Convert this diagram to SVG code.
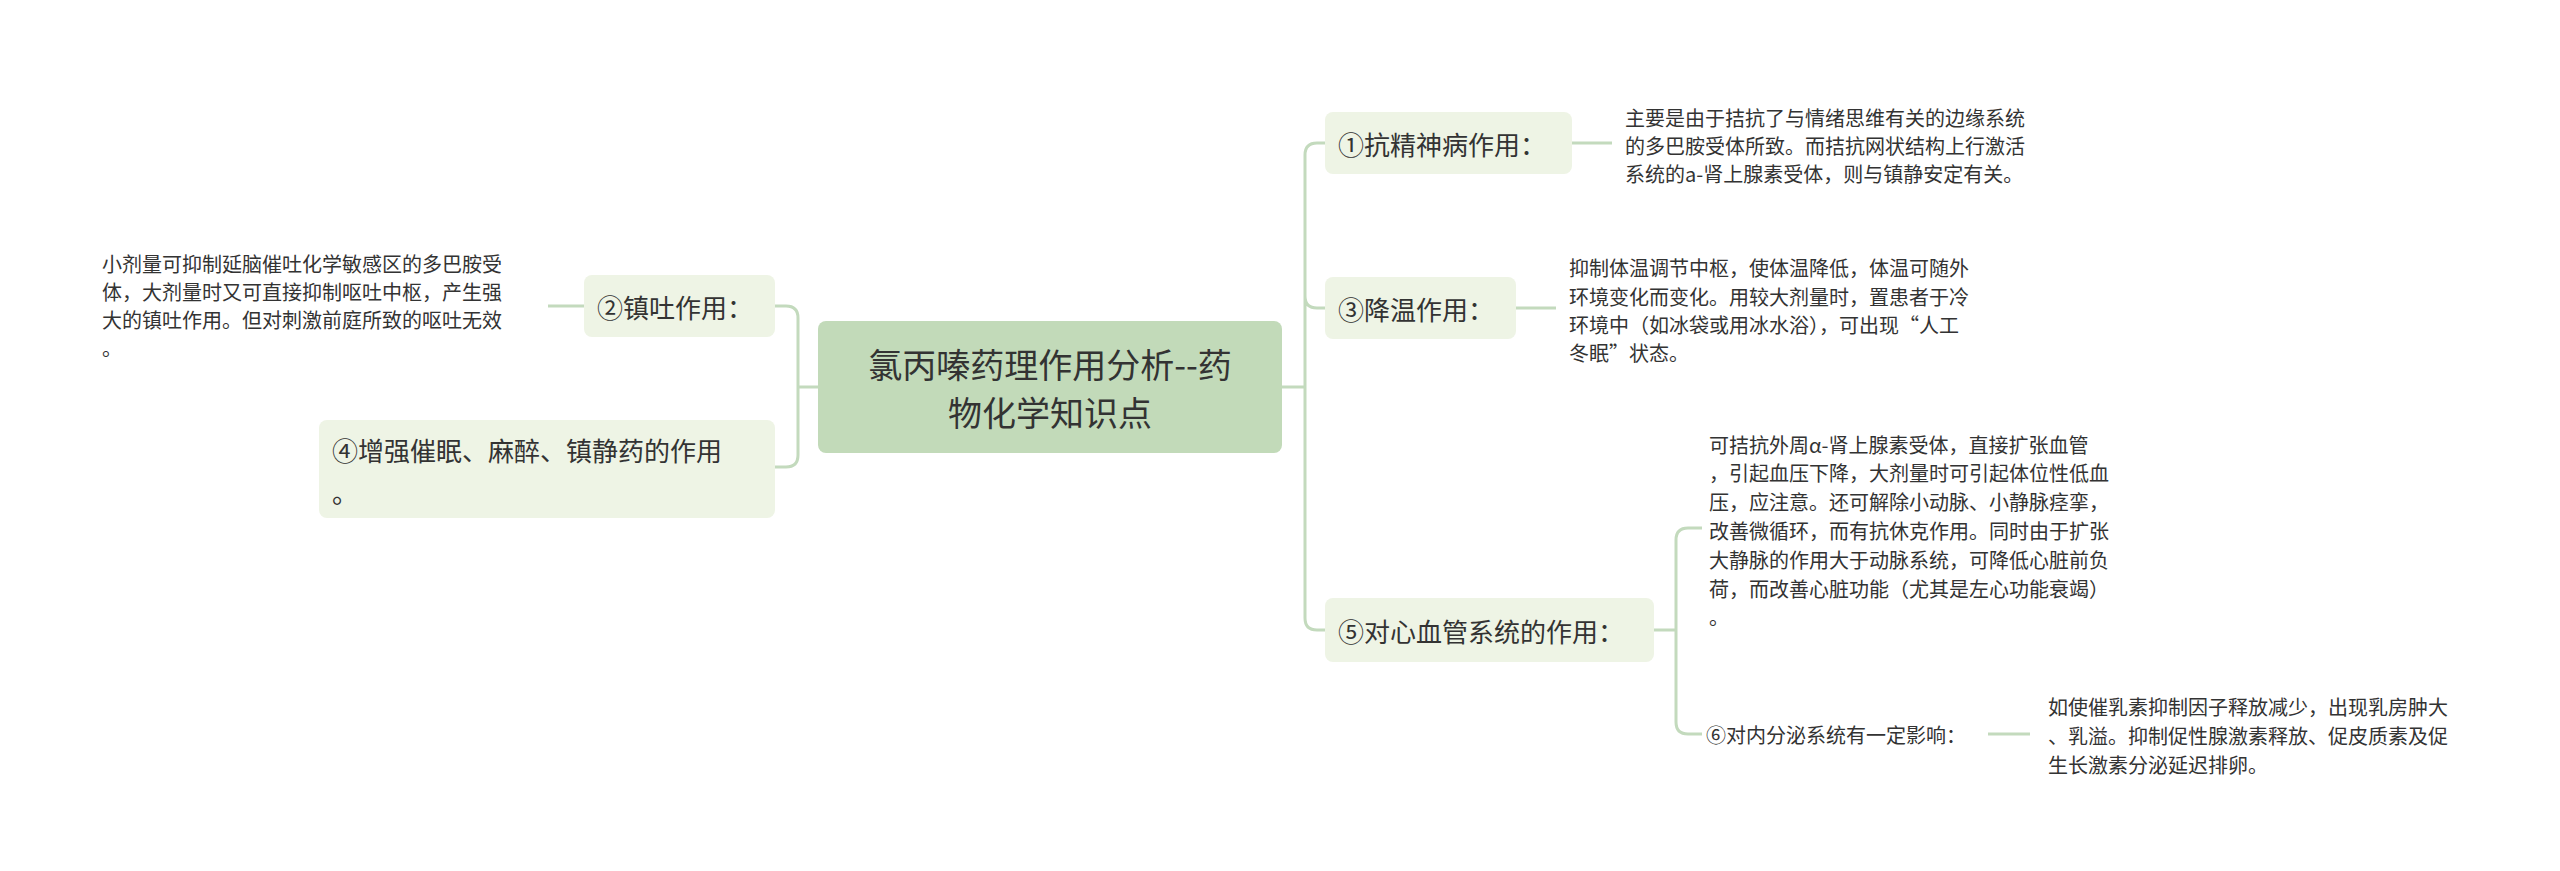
<svg xmlns="http://www.w3.org/2000/svg" width="2560" height="871" viewBox="0 0 2560 871">
<style>
text{font-family:"Noto Sans CJK SC","Liberation Sans",sans-serif;fill:#333}
.n{fill:#eef4e5}
.t{font-size:26px;dominant-baseline:central}
.d{font-size:20px;dominant-baseline:central}
.c{fill:none;stroke:#c3dabd;stroke-width:3}
</style>
<rect width="2560" height="871" fill="#fff"/>
<g id="connectors">
<path class="c" d="M818 387H798M798 387V318q0-12-12-12h-11M798 387V455q0 12-12 12h-11"/>
<path class="c" d="M584 306H548"/>
<path class="c" d="M1282 387H1305M1305 387V155q0-12 12-12h8M1305 296q0 12 12 12h8M1305 387V618q0 12 12 12h8"/>
<path class="c" d="M1572 143H1612M1516 308H1556"/>
<path class="c" d="M1654 630H1676M1676 630V540q0-12 12-12h14M1676 630V722q0 12 12 12h14M1988 734H2030"/>
</g>
<g id="root"><rect x="818" y="321" width="464" height="132" rx="8" fill="#c2dab9"/>
<text x="1050" y="363" text-anchor="middle" style="font-size:34px;dominant-baseline:central">氯丙嗪药理作用分析--药</text>
<text x="1050" y="411" text-anchor="middle" style="font-size:34px;dominant-baseline:central">物化学知识点</text></g>
<g id="n2"><rect class="n" x="584" y="275" width="191" height="62" rx="8"/><text class="t" x="597" y="306">②镇吐作用：</text></g>
<g id="d2"><text class="d" x="102" y="263">小剂量可抑制延脑催吐化学敏感区的多巴胺受</text><text class="d" x="102" y="291">体，大剂量时又可直接抑制呕吐中枢，产生强</text><text class="d" x="102" y="319">大的镇吐作用。但对刺激前庭所致的呕吐无效</text><text class="d" x="102" y="347">。</text></g>
<g id="n4"><rect class="n" x="319" y="420" width="456" height="98" rx="8"/><text class="t" x="332" y="449">④增强催眠、麻醉、镇静药的作用</text><text class="t" x="332" y="491">。</text></g>
<g id="n1"><rect class="n" x="1325" y="112" width="247" height="62" rx="8"/><text class="t" x="1338" y="143">①抗精神病作用：</text></g>
<g id="d1"><text class="d" x="1625" y="117">主要是由于拮抗了与情绪思维有关的边缘系统</text><text class="d" x="1625" y="145">的多巴胺受体所致。而拮抗网状结构上行激活</text><text class="d" x="1625" y="173">系统的a-肾上腺素受体，则与镇静安定有关。</text></g>
<g id="n3"><rect class="n" x="1325" y="277" width="191" height="62" rx="8"/><text class="t" x="1338" y="308">③降温作用：</text></g>
<g id="d3"><text class="d" x="1569" y="267">抑制体温调节中枢，使体温降低，体温可随外</text><text class="d" x="1569" y="296">环境变化而变化。用较大剂量时，置患者于冷</text><text class="d" x="1569" y="324">环境中（如冰袋或用冰水浴），可出现“人工</text><text class="d" x="1569" y="352">冬眠”状态。</text></g>
<g id="n5"><rect class="n" x="1325" y="598" width="329" height="64" rx="8"/><text class="t" x="1338" y="630">⑤对心血管系统的作用：</text></g>
<g id="d5"><text class="d" x="1709" y="444">可拮抗外周α-肾上腺素受体，直接扩张血管</text><text class="d" x="1709" y="472">，引起血压下降，大剂量时可引起体位性低血</text><text class="d" x="1709" y="501">压，应注意。还可解除小动脉、小静脉痉挛，</text><text class="d" x="1709" y="530">改善微循环，而有抗休克作用。同时由于扩张</text><text class="d" x="1709" y="559">大静脉的作用大于动脉系统，可降低心脏前负</text><text class="d" x="1709" y="588">荷，而改善心脏功能（尤其是左心功能衰竭）</text><text class="d" x="1709" y="616">。</text></g>
<g id="n6"><text class="d" x="1706" y="734">⑥对内分泌系统有一定影响：</text></g>
<g id="d6"><text class="d" x="2048" y="706">如使催乳素抑制因子释放减少，出现乳房肿大</text><text class="d" x="2048" y="735">、乳溢。抑制促性腺激素释放、促皮质素及促</text><text class="d" x="2048" y="764">生长激素分泌延迟排卵。</text></g>
</svg>
